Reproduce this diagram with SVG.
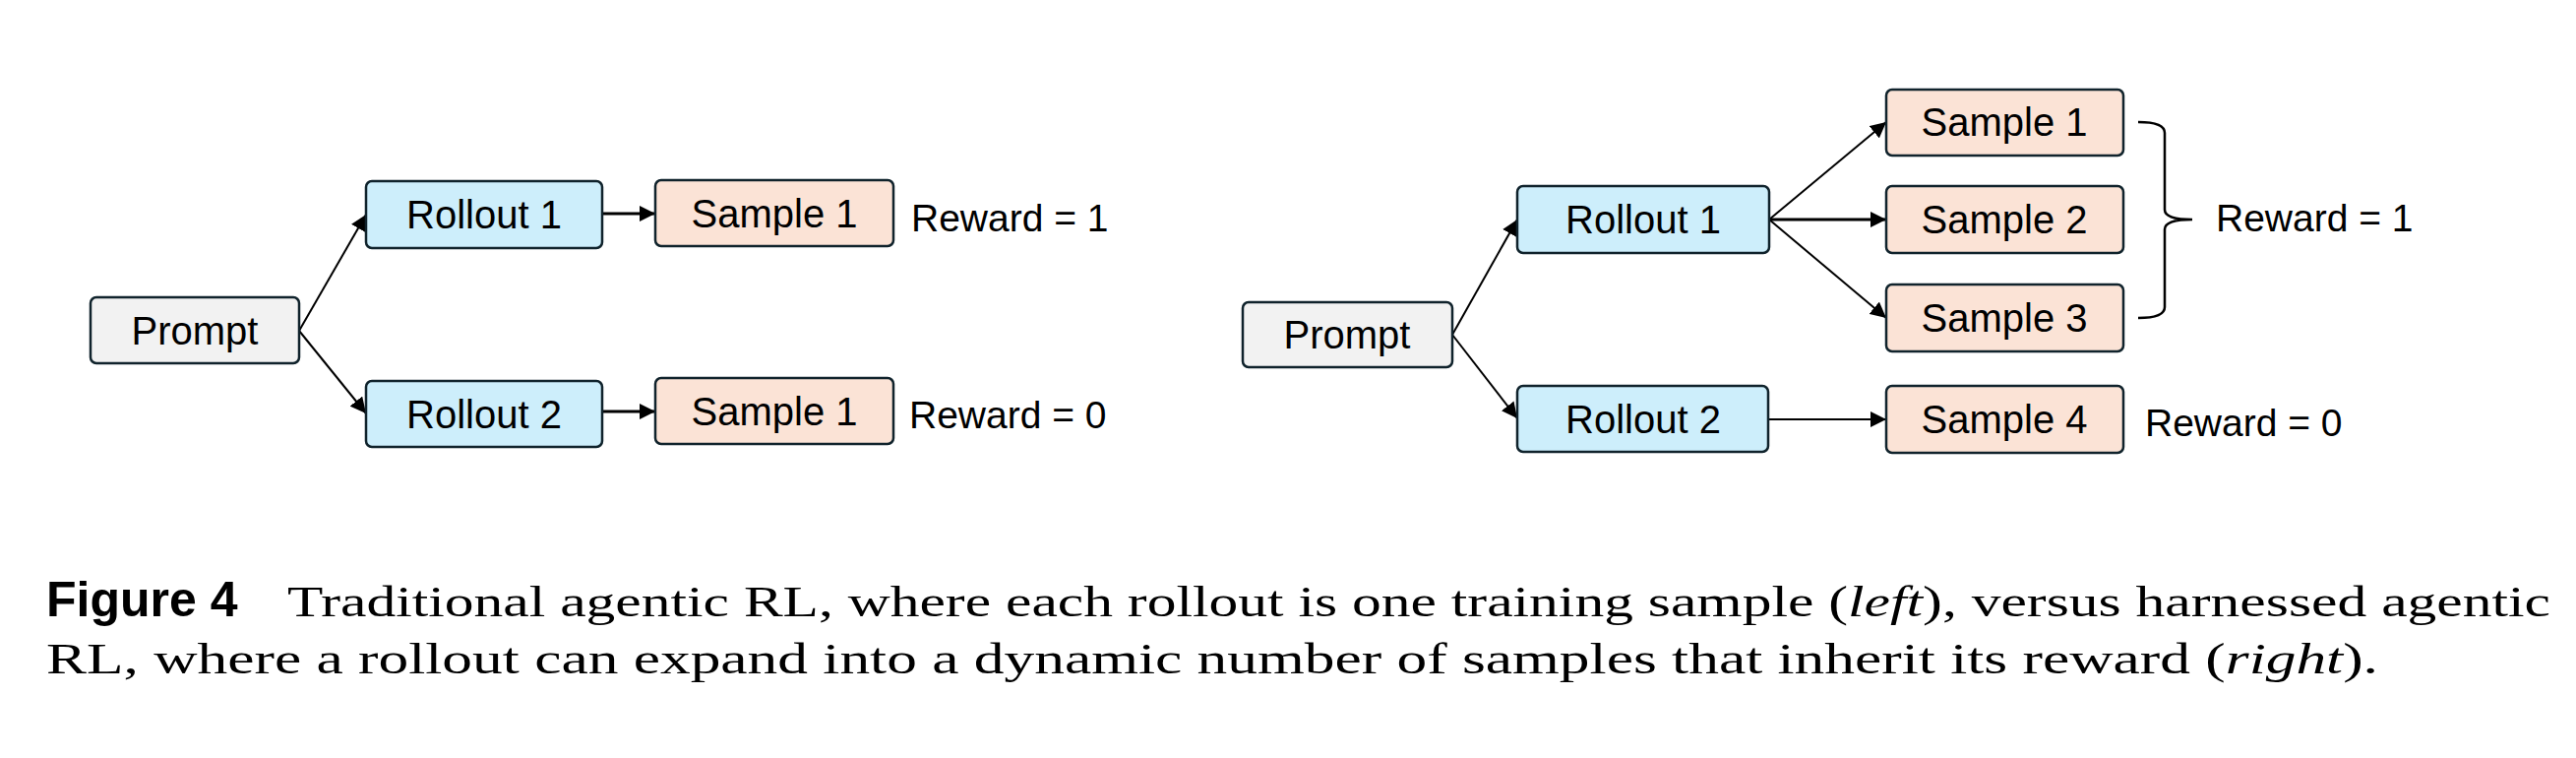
<svg xmlns="http://www.w3.org/2000/svg" width="2618" height="770" viewBox="0 0 2618 770">
<style>
.b{stroke:#10232c;stroke-width:2.5}
.p{fill:#f2f2f2}.r{fill:#cdeefb}.s{fill:#fbe3d6}
.t{font-family:"Liberation Sans",Arial,sans-serif;font-size:40px;fill:#000;text-anchor:middle;dominant-baseline:central}
.w{font-family:"Liberation Sans",Arial,sans-serif;font-size:39px;fill:#000}
.c{font-family:"Liberation Serif","Times New Roman",serif;font-size:45px;fill:#000}
.e{stroke:#000;stroke-width:2;fill:none}
</style>
<defs>
<marker id="m" viewBox="0 0 10 10" refX="10" refY="5" markerWidth="16" markerHeight="16" markerUnits="userSpaceOnUse" orient="auto"><path d="M0,0L10,5L0,10z" fill="#000"/></marker></defs>
<g id="connectors">
<path class="e" d="M304,336L372,218" marker-end="url(#m)"/>
<path class="e" d="M304,336L372,420" marker-end="url(#m)"/>
<path class="e" style="stroke-width:3" d="M612,217L666,217" marker-end="url(#m)"/>
<path class="e" style="stroke-width:3" d="M612,418L666,418" marker-end="url(#m)"/>
<path class="e" d="M1476,340L1542,223" marker-end="url(#m)"/>
<path class="e" d="M1476,340L1542,425" marker-end="url(#m)"/>
<path class="e" d="M1798,223L1917,124" marker-end="url(#m)"/>
<path class="e" style="stroke-width:3" d="M1798,223L1917,223" marker-end="url(#m)"/>
<path class="e" d="M1798,223L1917,323" marker-end="url(#m)"/>
<path class="e" d="M1797,426L1917,426" marker-end="url(#m)"/>
<path class="e" style="stroke-width:2.5" d="M2173,124Q2200,124 2200,135L2200,213Q2200,223 2228,223Q2200,223 2200,233L2200,312Q2200,323 2173,323"/>
</g>
<g id="l-prompt"><rect class="b p" x="92" y="302" width="212" height="67" rx="6"/><text class="t" x="198" y="336">Prompt</text></g>
<g id="l-rollout1"><rect class="b r" x="372" y="184" width="240" height="68" rx="6"/><text class="t" x="492" y="218">Rollout 1</text></g>
<g id="l-rollout2"><rect class="b r" x="372" y="387" width="240" height="67" rx="6"/><text class="t" x="492" y="421">Rollout 2</text></g>
<g id="l-sample1a"><rect class="b s" x="666" y="183" width="242" height="67" rx="6"/><text class="t" x="787" y="217">Sample 1</text></g>
<g id="l-sample1b"><rect class="b s" x="666" y="384" width="242" height="67" rx="6"/><text class="t" x="787" y="418">Sample 1</text></g>
<text class="w" x="926" y="235">Reward = 1</text>
<text class="w" x="924" y="435">Reward = 0</text>
<g id="r-prompt"><rect class="b p" x="1263" y="307" width="213" height="66" rx="6"/><text class="t" x="1369" y="340">Prompt</text></g>
<g id="r-rollout1"><rect class="b r" x="1542" y="189" width="256" height="68" rx="6"/><text class="t" x="1670" y="223">Rollout 1</text></g>
<g id="r-rollout2"><rect class="b r" x="1542" y="392" width="255" height="67" rx="6"/><text class="t" x="1670" y="426">Rollout 2</text></g>
<g id="r-sample1"><rect class="b s" x="1917" y="91" width="241" height="67" rx="6"/><text class="t" x="2037" y="124">Sample 1</text></g>
<g id="r-sample2"><rect class="b s" x="1917" y="189" width="241" height="68" rx="6"/><text class="t" x="2037" y="223">Sample 2</text></g>
<g id="r-sample3"><rect class="b s" x="1917" y="289" width="241" height="68" rx="6"/><text class="t" x="2037" y="323">Sample 3</text></g>
<g id="r-sample4"><rect class="b s" x="1917" y="392" width="241" height="68" rx="6"/><text class="t" x="2037" y="426">Sample 4</text></g>
<text class="w" x="2252" y="235">Reward = 1</text>
<text class="w" x="2180" y="443">Reward = 0</text>
<text class="c" x="47" y="626"><tspan font-family="Liberation Sans,Arial,sans-serif" font-weight="bold" font-size="50">Figure 4</tspan><tspan x="292" textLength="2300" lengthAdjust="spacingAndGlyphs">Traditional agentic RL, where each rollout is one training sample (<tspan font-style="italic">left</tspan>), versus harnessed agentic</tspan></text>
<text class="c" x="47" y="684" textLength="2370" lengthAdjust="spacingAndGlyphs">RL, where a rollout can expand into a dynamic number of samples that inherit its reward (<tspan font-style="italic">right</tspan>).</text>
</svg>
